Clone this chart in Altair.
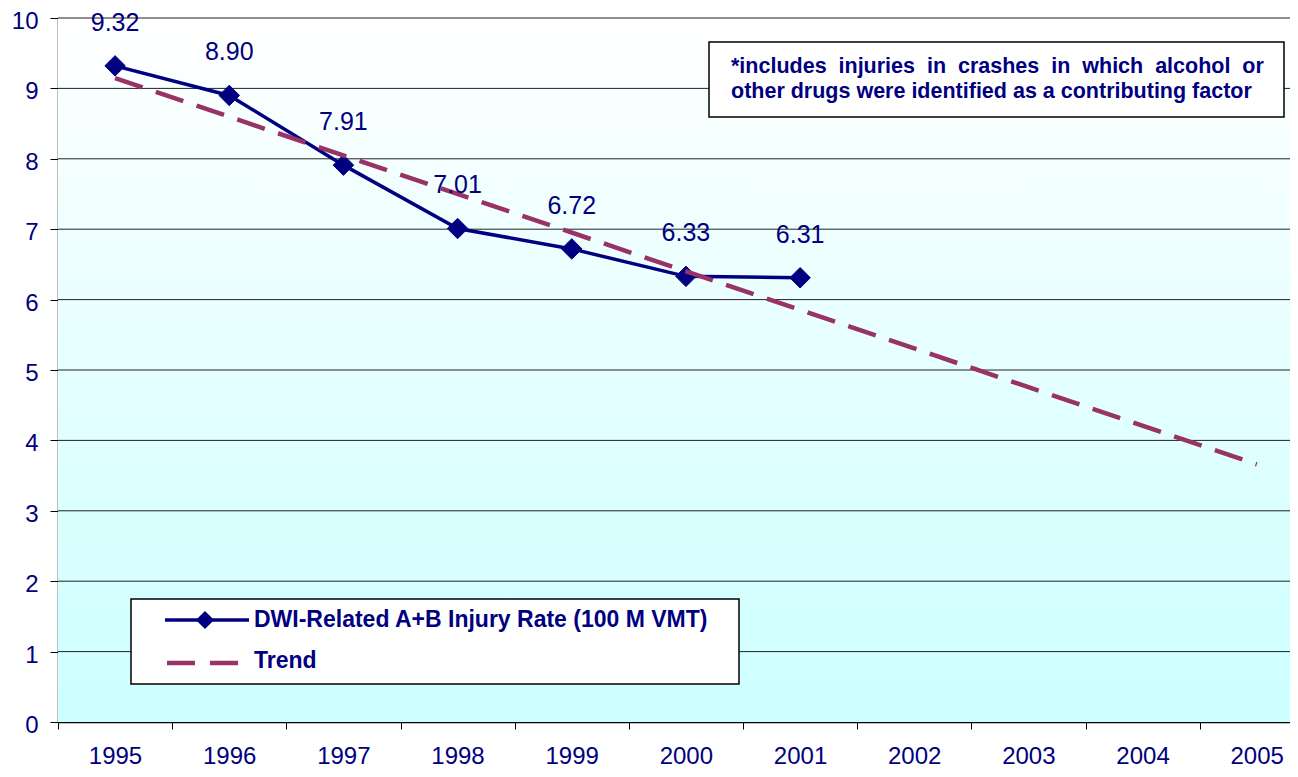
import altair as alt
import pandas as pd

# ---- data ----
years = [1995, 1996, 1997, 1998, 1999, 2000, 2001]
rates = [9.32, 8.90, 7.91, 7.01, 6.72, 6.33, 6.31]
rate_labels = ["9.32", "8.90", "7.91", "7.01", "6.72", "6.33", "6.31"]
trend_extent = [1995, 2005]
year_ticks = [1994.5, 1995.5, 1996.5, 1997.5, 1998.5, 1999.5, 2000.5,
              2001.5, 2002.5, 2003.5, 2004.5]
y_ticks = [0, 1, 2, 3, 4, 5, 6, 7, 8, 9, 10]
grid_values = [1, 2, 3, 4, 5, 6, 7, 8, 9, 10]
series_name = "DWI-Related A+B Injury Rate (100 M VMT)"
trend_name = "Trend"
note_line1 = ["*includes", "injuries", "in", "crashes", "in", "which", "alcohol", "or"]
note_line2 = "other drugs were identified as a contributing factor"

NAVY = "#000080"
PLUM = "#993366"
FONT = "Liberation Sans"

W, H = 1232, 704
BAND = 114.17
x_domain = [1994.5, 1994.5 + W / BAND]

df = pd.DataFrame({"year": years, "value": rates, "label": rate_labels})
grid_df = pd.DataFrame({"value": grid_values})
one = pd.DataFrame({"k": [0]})

x_scale = alt.Scale(domain=x_domain, nice=False, zero=False)
y_scale = alt.Scale(domain=[0, 10], nice=False)

x_axis = alt.Axis(
    title=None, values=year_ticks, grid=False,
    labelExpr="format(datum.value + 0.5, 'd')",
    labelOffset=57, labelFlush=False, labelOverlap=False, labelBound=False,
    tickSize=7, tickColor="#000000", tickWidth=1,
    domainColor="#000000", domainWidth=1.5,
    labelFontSize=24, labelColor=NAVY, labelFont=FONT,
    labelPadding=34, labelBaseline="alphabetic",
)
y_axis = alt.Axis(
    title=None, values=y_ticks, grid=False, format="d",
    tickSize=8, tickColor="#000000", tickWidth=1,
    domainColor="#000000", domainWidth=1.5,
    labelFontSize=24, labelColor=NAVY, labelFont=FONT,
    labelPadding=12, labelBaseline="middle", labelOffset=3.5,
    labelFlush=False, labelBound=False,
)

X = alt.X("year:Q", scale=x_scale, axis=x_axis)
Y = alt.Y("value:Q", scale=y_scale, axis=y_axis)

# background gradient of the plot area
background = alt.Chart(one).mark_rect(
    fill={"gradient": "linear", "x1": 0, "x2": 0, "y1": 0, "y2": 1,
          "stops": [{"offset": 0, "color": "#FFFFFF"},
                    {"offset": 1, "color": "#CCFFFF"}]},
    stroke=None,
).encode(x=alt.value(0), x2=alt.value("width"), y=alt.value(0), y2=alt.value("height"))

grid = alt.Chart(grid_df).mark_rule(color="#222222", strokeWidth=1).encode(y=Y)

line = alt.Chart(df).mark_line(color=NAVY, strokeWidth=3.5).encode(x=X, y=Y)
points = alt.Chart(df).mark_point(
    shape="diamond", filled=True, size=420, color=NAVY, opacity=1,
    stroke=NAVY, strokeWidth=1,
).encode(x=X, y=Y)
labels = alt.Chart(df).mark_text(
    dy=-43, fontSize=25, color=NAVY, font=FONT, baseline="middle", align="center",
).encode(x=X, y=Y, text="label:N")

trend = alt.Chart(df).transform_regression(
    "year", "value", extent=trend_extent
).mark_line(color=PLUM, strokeWidth=4.5, strokeDash=[29, 14]).encode(x=X, y=Y)

# legend box (drawn by hand, as in the reference)
leg_box = alt.Chart(one).mark_rect(fill="white", stroke="#000000", strokeWidth=1.5).encode(
    x=alt.value(73), x2=alt.value(681), y=alt.value(581), y2=alt.value(666))
leg_line = alt.Chart(one).mark_rule(color=NAVY, strokeWidth=3.5).encode(
    x=alt.value(107), x2=alt.value(191), y=alt.value(602))
leg_diamond = alt.Chart(one).mark_point(
    shape="diamond", filled=True, size=330, color=NAVY, opacity=1).encode(
    x=alt.value(147), y=alt.value(602))
leg_text1 = alt.Chart(one).mark_text(
    text=series_name, fontSize=23, fontWeight="bold", color=NAVY, font=FONT,
    align="left", baseline="middle").encode(x=alt.value(196), y=alt.value(602))
leg_dash = alt.Chart(one).mark_rule(color=PLUM, strokeWidth=4.5, strokeDash=[28, 15]).encode(
    x=alt.value(109), x2=alt.value(180), y=alt.value(645))
leg_text2 = alt.Chart(one).mark_text(
    text=trend_name, fontSize=23, fontWeight="bold", color=NAVY, font=FONT,
    align="left", baseline="middle").encode(x=alt.value(196), y=alt.value(643))

# note box
note_box = alt.Chart(one).mark_rect(fill="white", stroke="#000000", strokeWidth=1.5).encode(
    x=alt.value(651), x2=alt.value(1226), y=alt.value(24), y2=alt.value(99))
note_t1 = alt.Chart(one).mark_text(
    text="\u00a0\u00a0".join(note_line1), fontSize=21.5, fontWeight="bold", color=NAVY,
    font=FONT, align="left", baseline="alphabetic").encode(x=alt.value(673), y=alt.value(55))
note_t2 = alt.Chart(one).mark_text(
    text=note_line2, fontSize=21.5, fontWeight="bold", color=NAVY,
    font=FONT, align="left", baseline="alphabetic").encode(x=alt.value(673), y=alt.value(80))

chart = alt.layer(
    background, grid, line, points, trend, labels,
    leg_box, leg_line, leg_diamond, leg_text1, leg_dash, leg_text2,
    note_box, note_t1, note_t2,
).properties(
    width=W, height=H,
    autosize=alt.AutoSizeParams(type="none"),
    padding={"left": 50, "top": 10, "right": 0, "bottom": 47},
).configure_view(stroke=None).configure(background="white")

chart.save("out.html", embed_options={"renderer": "svg", "actions": False})
